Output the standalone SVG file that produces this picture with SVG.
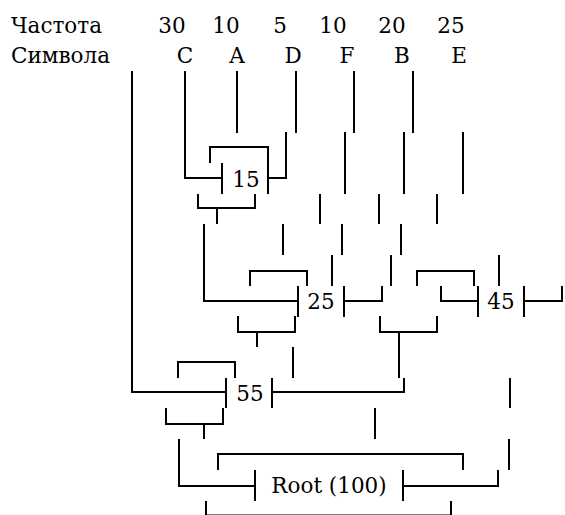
<svg xmlns="http://www.w3.org/2000/svg" width="565" height="515" viewBox="0 0 565 515">
<style>
.t{font-family:'DejaVu Serif','Liberation Serif',serif;font-size:21.5px;fill:#000}
.c{text-anchor:middle}
.ln{fill:none;stroke:#000;stroke-width:2;stroke-linejoin:miter;stroke-linecap:butt}
</style>
<rect width="565" height="515" fill="#fff"/>
<g id="header" class="t">
<text x="11" y="33">Частота</text>
<text x="11" y="63">Символа</text>
<text class="c" x="172" y="33">30</text>
<text class="c" x="226" y="33">10</text>
<text class="c" x="280" y="33">5</text>
<text class="c" x="333" y="33">10</text>
<text class="c" x="392" y="33">20</text>
<text class="c" x="451" y="33">25</text>
<text class="c" x="185" y="63">C</text>
<text class="c" x="237" y="63">A</text>
<text class="c" x="293" y="63">D</text>
<text class="c" x="347" y="63">F</text>
<text class="c" x="402" y="63">B</text>
<text class="c" x="459" y="63">E</text>
</g>
<g id="connectors" class="ln">
<path class="ln" d="M132 71V392H226"/>
<path class="ln" d="M185 71V178H222"/>
<path class="ln" d="M237 71V133M296 71V133M354 71V133M413 71V133"/>
<path class="ln" d="M286 132V178H268"/>
<path class="ln" d="M210 163V147H268V163"/>
<path class="ln" d="M222 163V194M268 163V194"/>
<path class="ln" d="M345 132V194M404 132V194M463 132V194"/>
<path class="ln" d="M198 194V208H255V194M217 208V224"/>
<path class="ln" d="M320 194V224M379 194V224M437 194V224"/>
<path class="ln" d="M204 224V301H298"/>
<path class="ln" d="M283 224V255M342 224V255M401 224V255"/>
<path class="ln" d="M250 286V271H307V286"/>
<path class="ln" d="M332 255V286M391 255V286M499 255V286"/>
<path class="ln" d="M417 286V271H474V286"/>
<path class="ln" d="M298 286V317M344 286V317M344 301H382V286"/>
<path class="ln" d="M441 286V301H478M478 286V317M524 286V317M524 301H562V286"/>
<path class="ln" d="M238 316V332H295V316M257 332V347"/>
<path class="ln" d="M380 316V332H437V316M399 332V378"/>
<path class="ln" d="M293 347V378"/>
<path class="ln" d="M178 378V362H235V378"/>
<path class="ln" d="M226 378V408M272 378V408M272 392H404V378M510 378V408"/>
<path class="ln" d="M166 408V424H223V408M204 424V439M375 408V439"/>
<path class="ln" d="M179 439V486H255"/>
<path class="ln" d="M218 470V454H463V470M509 439V470"/>
<path class="ln" d="M255 470V501M403 470V501M403 486H498V470"/>
<path class="ln" d="M206 501V515M451 501V515"/>
<path class="ln" d="M206 515.5H451"/>
</g>
<g id="n15" class="t"><text class="c" x="246" y="187">15</text></g>
<g id="n25" class="t"><text class="c" x="321" y="309">25</text></g>
<g id="n45" class="t"><text class="c" x="501" y="309">45</text></g>
<g id="n55" class="t"><text class="c" x="250" y="401">55</text></g>
<g id="root" class="t"><text class="c" x="329" y="493">Root (100)</text></g>
</svg>
